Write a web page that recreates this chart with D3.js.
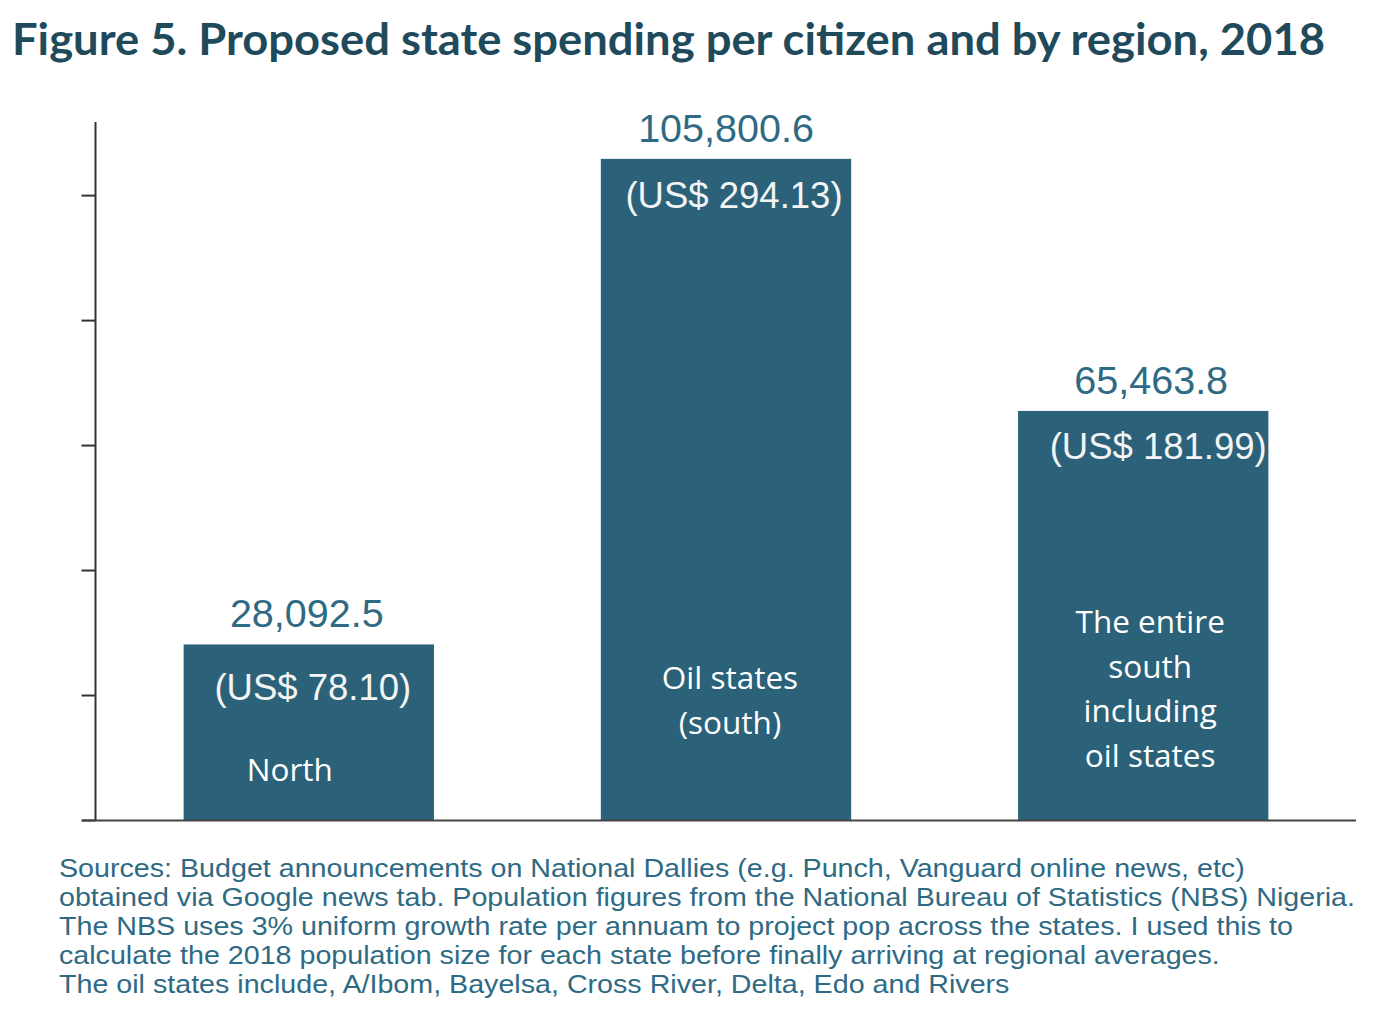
<!DOCTYPE html>
<html>
<head>
<meta charset="utf-8">
<script src="https://cdn.jsdelivr.net/npm/d3@7"></script>
<style>
  html, body { margin: 0; padding: 0; background: #fff; }
  svg { display: block; }
</style>
</head>
<body>
<svg id="chart" width="1382" height="1010"></svg>
<script>
// data
const regions = ['North', 'Oil states', 'South']
const spending = [28092.5, 105800.6, 65463.8] // naira per citizen
const usd = ['(US$ 78.10)', '(US$ 294.13)', '(US$ 181.99)']
const regionLabels = [['North'], ['Oil states', '(south)'], ['The entire', 'south', 'including', 'oil states']]
const yTicks = [0, 20000, 40000, 60000, 80000, 100000]
const yMax = 111700
const notes = [
  'Sources: Budget announcements on National Dallies (e.g. Punch, Vanguard online news, etc)',
  'obtained via Google news tab. Population figures from the National Bureau of Statistics (NBS) Nigeria.',
  'The NBS uses 3% uniform growth rate per annuam to project pop across the states. I used this to',
  'calculate the 2018 population size for each state before finally arriving at regional averages.',
  'The oil states include, A/Ibom, Bayelsa, Cross River, Delta, Edo and Rivers'
]

const svg = d3.select('#chart')
const barColor = '#2b6279'
const textBlue = '#2f6a84'

svg.append('text')
  .attr('x', 12)
  .attr('y', 55)
  .attr('fill', '#1f4a5b')
  .attr('font-family', 'Lato, "Noto Sans", sans-serif')
  .attr('font-weight', 700)
  .attr('font-size', 43)
  .attr('textLength', 1313)
  .attr('lengthAdjust', 'spacingAndGlyphs')
  .text('Figure 5. Proposed state spending per citizen and by region, 2018')

const x = d3.scaleBand()
  .domain(regions)
  .range([96, 1356])
  .paddingInner(0.4)
  .paddingOuter(0.21)

const y = d3.scaleLinear()
  .domain([0, yMax])
  .range([820, 122])

const bars = svg.append('g')
bars.selectAll('rect')
  .data(spending)
  .join('rect')
  .attr('x', (d, i) => x(regions[i]))
  .attr('y', d => y(d))
  .attr('width', x.bandwidth())
  .attr('height', d => y(0) - y(d))
  .attr('fill', barColor)

// axes
const yAxis = svg.append('g')
  .attr('transform', 'translate(95.5,0)')
  .call(d3.axisLeft(y).tickValues(yTicks).tickSize(14).tickFormat(''))
yAxis.select('.domain').attr('d', `M0,${y(yMax)}V${y(0)}`)
yAxis.selectAll('line, path').attr('stroke', '#333').attr('stroke-width', 2)

svg.append('line')
  .attr('x1', 82).attr('x2', 1356)
  .attr('y1', y(0) + 0.5).attr('y2', y(0) + 0.5)
  .attr('stroke', '#444').attr('stroke-width', 2)

// value labels above bars
const valShift = [-2, 0, 8]
svg.append('g').selectAll('text')
  .data(spending)
  .join('text')
  .attr('x', (d, i) => x(regions[i]) + x.bandwidth() / 2 + valShift[i])
  .attr('y', d => y(d) - 17)
  .attr('text-anchor', 'middle')
  .attr('fill', textBlue)
  .attr('font-family', '"Liberation Sans", Arial, sans-serif')
  .attr('font-size', 39.5)
  .text(d => d3.format(',.1f')(d))

// dollar labels inside bars
const usdShift = [4, 8, 15]
const usdDrop = [56, 49, 48]
svg.append('g').selectAll('text')
  .data(spending)
  .join('text')
  .attr('x', (d, i) => x(regions[i]) + x.bandwidth() / 2 + usdShift[i])
  .attr('y', (d, i) => y(d) + usdDrop[i])
  .attr('text-anchor', 'middle')
  .attr('fill', '#f4f4f4')
  .attr('font-family', '"Liberation Sans", Arial, sans-serif')
  .attr('font-size', 36.5)
  .text((d, i) => usd[i])

// region names inside bars
const nameTop = [781, 689, 633]
const nameShift = [-19, 4, 7]
const names = svg.append('g')
  .attr('fill', '#fff')
  .attr('font-family', '"Open Sans", "Noto Sans", sans-serif')
  .attr('font-size', 31.5)
  .attr('text-anchor', 'middle')
regionLabels.forEach((lines, i) => {
  names.append('text')
    .selectAll('tspan')
    .data(lines)
    .join('tspan')
    .attr('x', x(regions[i]) + x.bandwidth() / 2 + nameShift[i])
    .attr('y', (d, j) => nameTop[i] + j * 44.7)
    .text(d => d)
})

// footnote (the source text is a little stretched sideways)
svg.append('g')
  .attr('transform', 'translate(59,0) scale(1.124,1)')
  .append('text')
  .attr('fill', textBlue)
  .attr('font-family', '"Liberation Sans", Arial, sans-serif')
  .attr('font-size', 25.5)
  .selectAll('tspan')
  .data(notes)
  .join('tspan')
  .attr('x', 0)
  .attr('y', (d, i) => 877 + i * 29)
  .text(d => d)
</script>
</body>
</html>
